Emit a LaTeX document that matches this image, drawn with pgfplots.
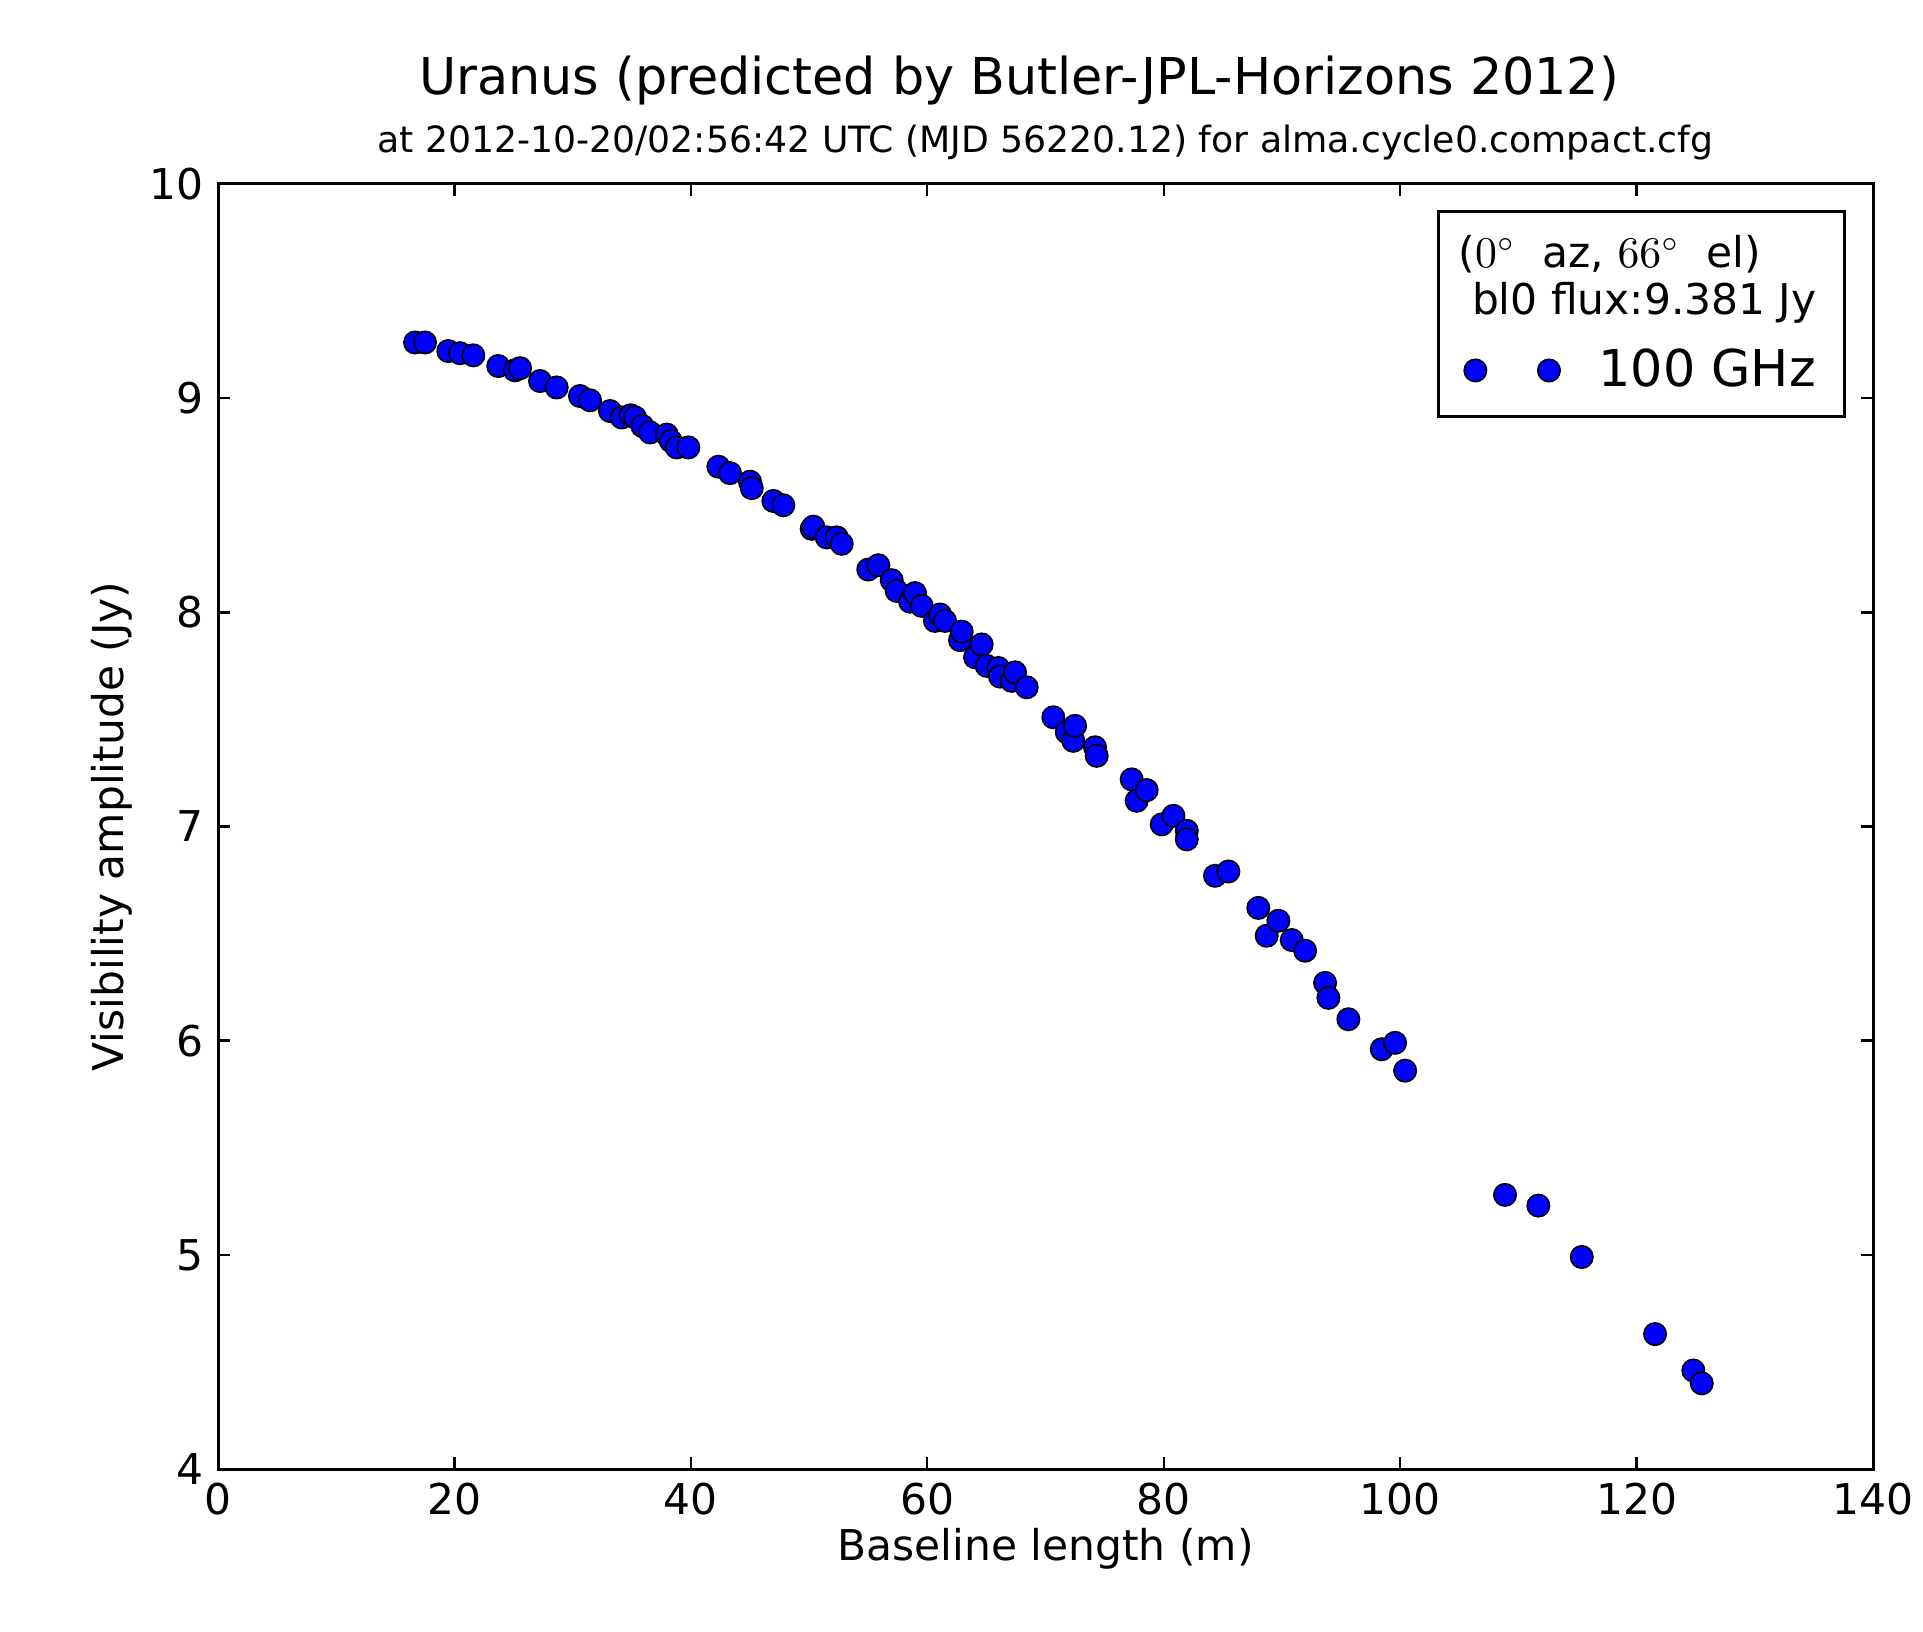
\documentclass[border=0pt]{standalone}
\usepackage{pgfplots}
\pgfplotsset{compat=1.18}
\usepackage{fontspec}
\setmainfont{DejaVu Sans}
\newcommand\tickfont{\fontsize{10.6}{12.7}\selectfont}
\newcommand\legfont{\fontsize{10.6}{11.75}\selectfont}
\newcommand\bigfont{\fontsize{12.7}{15}\selectfont}
\newcommand\subfont{\fontsize{9.05}{11}\selectfont}
\pgfplotsset{twomarks legend/.style={legend image code/.code={\path[draw=none,fill=none] (-4.2pt,-2.9pt) rectangle (28.8pt,2.9pt);\draw[##1] plot coordinates {(0pt,0pt) (18.4pt,0pt)};}}}
\pgfplotstableread{
x y
16.67 9.26
17.51 9.26
19.48 9.22
20.47 9.21
21.60 9.20
23.71 9.15
25.12 9.13
25.55 9.14
27.24 9.08
28.65 9.05
30.62 9.01
31.47 8.99
33.16 8.94
34.15 8.91
34.90 8.92
35.28 8.91
35.90 8.87
36.55 8.84
37.96 8.83
38.30 8.80
38.80 8.77
39.79 8.77
42.33 8.68
43.31 8.65
45.00 8.61
45.15 8.58
46.98 8.52
47.82 8.50
50.22 8.39
50.36 8.40
51.49 8.35
52.34 8.35
52.76 8.32
55.01 8.20
55.86 8.22
56.99 8.15
57.41 8.10
58.54 8.05
58.96 8.09
59.53 8.03
60.65 7.96
61.08 7.99
61.50 7.96
62.77 7.87
62.91 7.91
64.04 7.79
64.60 7.85
65.03 7.75
66.01 7.74
66.15 7.70
67.14 7.68
67.42 7.72
68.41 7.65
70.66 7.51
71.80 7.44
72.35 7.40
72.50 7.47
74.19 7.37
74.33 7.33
77.29 7.22
77.71 7.12
78.56 7.17
79.83 7.01
80.82 7.05
81.95 6.98
81.95 6.94
84.34 6.77
85.47 6.79
88.00 6.62
88.71 6.49
89.70 6.56
90.83 6.47
91.96 6.42
93.65 6.27
93.93 6.20
95.62 6.10
98.44 5.96
99.57 5.99
100.42 5.86
108.87 5.28
111.69 5.23
115.36 4.99
121.56 4.63
124.80 4.46
125.51 4.40
}\vis
\begin{document}
\begin{tikzpicture}
\useasboundingbox (-54.5pt,-40.5pt) rectangle (426.25pt,367.25pt);
\begin{axis}[
  at={(0pt,0pt)}, anchor=south west,
  scale only axis, width=413.75pt, height=321.25pt,
  xmin=0, xmax=140, ymin=4, ymax=10,
  xtick={0,20,...,140}, ytick={4,5,...,10},
  tick label style={font=\tickfont},
  /pgf/number format/assume math mode=true,
  major tick length=3pt,
  tick style={black, line width=0.6pt},
  axis line style={line width=0.75pt},
  xlabel={Baseline length (m)},
  ylabel={Visibility amplitude (Jy)},
  label style={font=\tickfont},
  xlabel style={at={([yshift=-20pt]axis description cs:0.5,0)}, anchor=center},
  ylabel style={at={([xshift=-26.5pt]axis description cs:0,0.5)}, anchor=center},
  clip=false,
  legend style={at={([xshift=-6.75pt,yshift=-6.5pt]axis description cs:1,1)},
    anchor=north east, draw=black, line width=0.7pt,
    inner xsep=5pt, inner ysep=4pt, row sep=3pt,
    font=\legfont, cells={anchor=west}, nodes={align=left}},
]
\addlegendimage{empty legend}
\addlegendentry{\hspace*{-35pt}($0^{\circ}$\ \ az, $66^{\circ}$\ \ el)\\\hspace*{-35pt}\ bl0 flux:9.381 Jy}
\addplot[only marks, mark=*, mark size=2.8pt,
  mark options={fill=blue, draw=black, line width=0.4pt},
  twomarks legend]
  table[x=x, y=y] {\vis};
\addlegendentry{\bigfont 100 GHz}
\node[font=\bigfont] at ([yshift=26pt]axis description cs:0.484,1) {Uranus (predicted by Butler-JPL-Horizons 2012)};
\node[font=\subfont] at ([yshift=10.25pt]axis description cs:0.5,1) {at 2012-10-20/02:56:42 UTC (MJD 56220.12) for alma.cycle0.compact.cfg};
\end{axis}
\end{tikzpicture}
\end{document}
